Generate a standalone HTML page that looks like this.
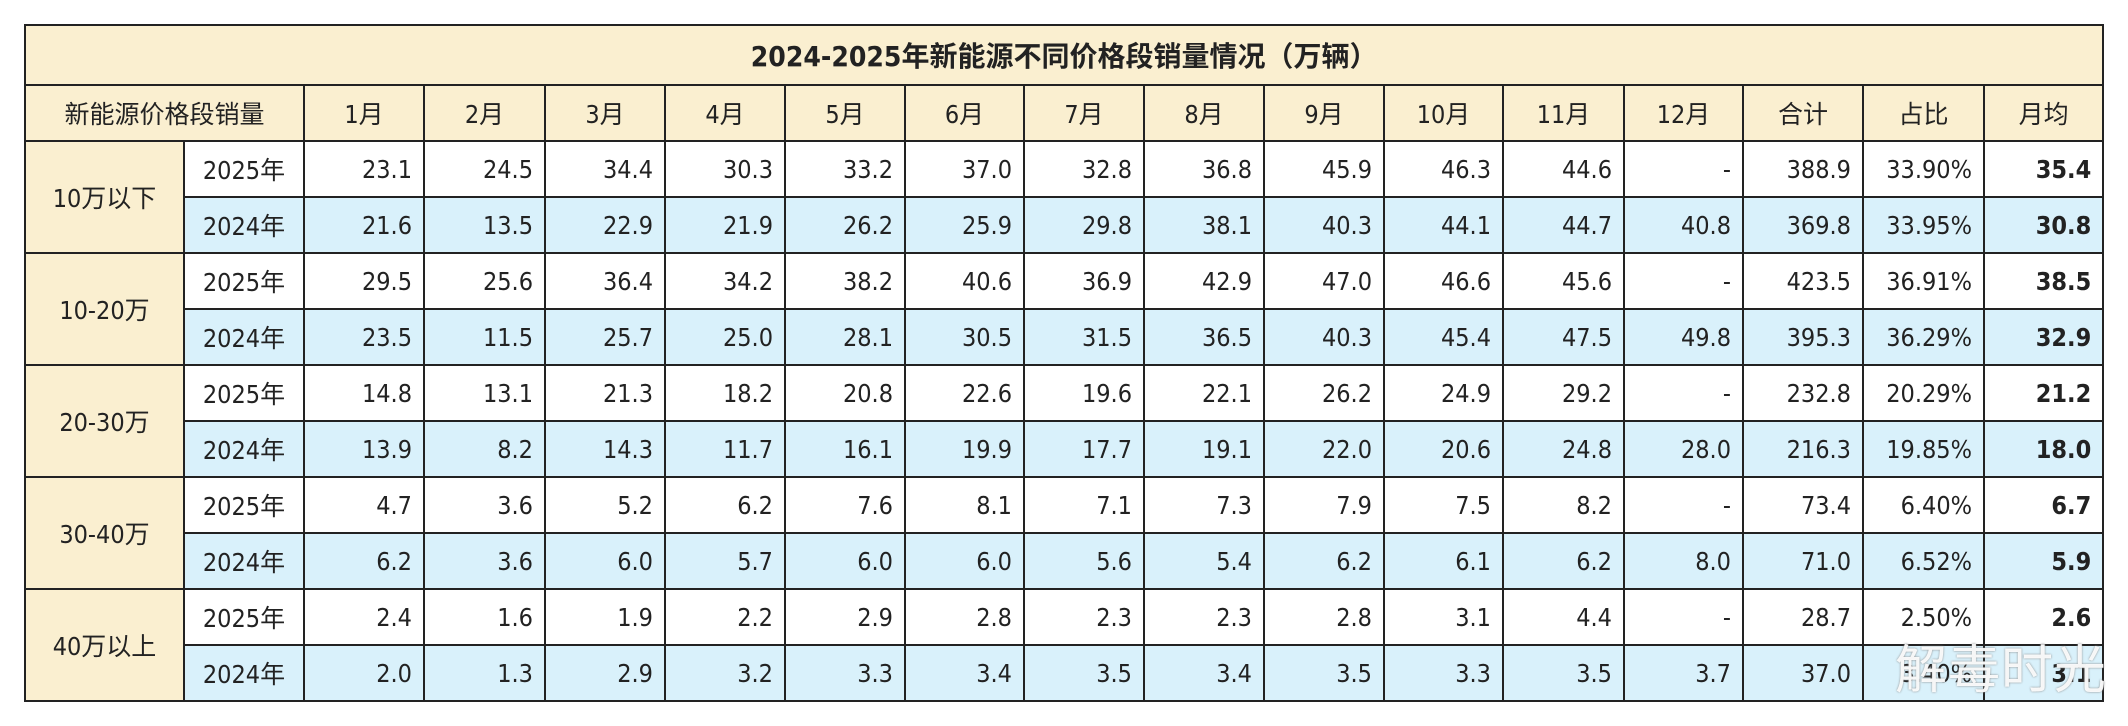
<!DOCTYPE html>
<html><head><meta charset="utf-8">
<style>
html,body{margin:0;padding:0;background:#fff;width:2128px;height:726px;overflow:hidden;}
table{position:absolute;left:24px;top:24px;border-collapse:collapse;table-layout:fixed;width:2079px;
font-family:"DejaVu Sans Condensed","Liberation Sans","Noto Sans CJK SC",sans-serif;font-size:25px;color:#222;}
td{border:2.5px solid #222;padding:0 11px 0 0;text-align:right;height:54px;white-space:nowrap;overflow:hidden;}
tr.title td{height:58px;background:#faefd0;text-align:center;font-weight:bold;font-size:28px;padding:0;}
tr.head td{background:#faefd0;text-align:center;padding:0;}
td.grp{background:#faefd0;text-align:center;padding:0;}
td.yr{text-align:center;padding:0;}
tr.b td:not(.grp){background:#d9f1fb;}
td.avg{font-weight:bold;}
.wm{position:absolute;left:1895px;top:628px;font-family:"Noto Sans CJK SC",sans-serif;font-size:52px;color:rgba(255,255,255,0.92);text-shadow:0 0 2px #888;letter-spacing:1px;}
</style></head><body>
<table>
<colgroup><col style="width:159px"><col style="width:120px"><col style="width:120px"><col style="width:121px"><col style="width:120px"><col style="width:120px"><col style="width:120px"><col style="width:119px"><col style="width:120px"><col style="width:120px"><col style="width:120px"><col style="width:119px"><col style="width:121px"><col style="width:119px"><col style="width:120px"><col style="width:121px"><col style="width:119px"></colgroup>
<tr class="title"><td colspan="17">2024-2025年新能源不同价格段销量情况（万辆）</td></tr>
<tr class="head"><td colspan="2">新能源价格段销量</td><td>1月</td><td>2月</td><td>3月</td><td>4月</td><td>5月</td><td>6月</td><td>7月</td><td>8月</td><td>9月</td><td>10月</td><td>11月</td><td>12月</td><td>合计</td><td>占比</td><td>月均</td></tr>
<tr><td class="grp" rowspan="2">10万以下</td><td class="yr">2025年</td><td>23.1</td><td>24.5</td><td>34.4</td><td>30.3</td><td>33.2</td><td>37.0</td><td>32.8</td><td>36.8</td><td>45.9</td><td>46.3</td><td>44.6</td><td>-</td><td>388.9</td><td>33.90%</td><td class="avg">35.4</td></tr>
<tr class="b"><td class="yr">2024年</td><td>21.6</td><td>13.5</td><td>22.9</td><td>21.9</td><td>26.2</td><td>25.9</td><td>29.8</td><td>38.1</td><td>40.3</td><td>44.1</td><td>44.7</td><td>40.8</td><td>369.8</td><td>33.95%</td><td class="avg">30.8</td></tr>
<tr><td class="grp" rowspan="2">10-20万</td><td class="yr">2025年</td><td>29.5</td><td>25.6</td><td>36.4</td><td>34.2</td><td>38.2</td><td>40.6</td><td>36.9</td><td>42.9</td><td>47.0</td><td>46.6</td><td>45.6</td><td>-</td><td>423.5</td><td>36.91%</td><td class="avg">38.5</td></tr>
<tr class="b"><td class="yr">2024年</td><td>23.5</td><td>11.5</td><td>25.7</td><td>25.0</td><td>28.1</td><td>30.5</td><td>31.5</td><td>36.5</td><td>40.3</td><td>45.4</td><td>47.5</td><td>49.8</td><td>395.3</td><td>36.29%</td><td class="avg">32.9</td></tr>
<tr><td class="grp" rowspan="2">20-30万</td><td class="yr">2025年</td><td>14.8</td><td>13.1</td><td>21.3</td><td>18.2</td><td>20.8</td><td>22.6</td><td>19.6</td><td>22.1</td><td>26.2</td><td>24.9</td><td>29.2</td><td>-</td><td>232.8</td><td>20.29%</td><td class="avg">21.2</td></tr>
<tr class="b"><td class="yr">2024年</td><td>13.9</td><td>8.2</td><td>14.3</td><td>11.7</td><td>16.1</td><td>19.9</td><td>17.7</td><td>19.1</td><td>22.0</td><td>20.6</td><td>24.8</td><td>28.0</td><td>216.3</td><td>19.85%</td><td class="avg">18.0</td></tr>
<tr><td class="grp" rowspan="2">30-40万</td><td class="yr">2025年</td><td>4.7</td><td>3.6</td><td>5.2</td><td>6.2</td><td>7.6</td><td>8.1</td><td>7.1</td><td>7.3</td><td>7.9</td><td>7.5</td><td>8.2</td><td>-</td><td>73.4</td><td>6.40%</td><td class="avg">6.7</td></tr>
<tr class="b"><td class="yr">2024年</td><td>6.2</td><td>3.6</td><td>6.0</td><td>5.7</td><td>6.0</td><td>6.0</td><td>5.6</td><td>5.4</td><td>6.2</td><td>6.1</td><td>6.2</td><td>8.0</td><td>71.0</td><td>6.52%</td><td class="avg">5.9</td></tr>
<tr><td class="grp" rowspan="2">40万以上</td><td class="yr">2025年</td><td>2.4</td><td>1.6</td><td>1.9</td><td>2.2</td><td>2.9</td><td>2.8</td><td>2.3</td><td>2.3</td><td>2.8</td><td>3.1</td><td>4.4</td><td>-</td><td>28.7</td><td>2.50%</td><td class="avg">2.6</td></tr>
<tr class="b"><td class="yr">2024年</td><td>2.0</td><td>1.3</td><td>2.9</td><td>3.2</td><td>3.3</td><td>3.4</td><td>3.5</td><td>3.4</td><td>3.5</td><td>3.3</td><td>3.5</td><td>3.7</td><td>37.0</td><td>3.40%</td><td class="avg">3.1</td></tr>
</table>
<div class="wm">解毒时光</div>
</body></html>
